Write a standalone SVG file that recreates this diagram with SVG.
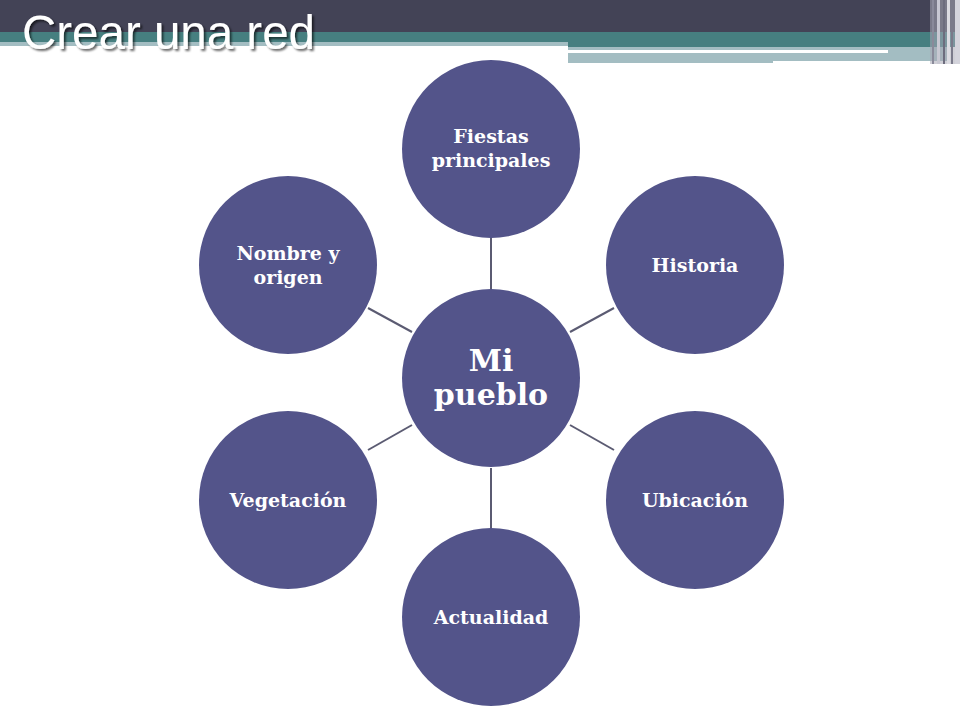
<svg xmlns="http://www.w3.org/2000/svg" width="960" height="720" viewBox="0 0 960 720">
<defs>
<style>
.node{fill:#53548a;}
.lbl{font-family:"DejaVu Serif","Liberation Serif",serif;font-weight:bold;font-size:19px;fill:#ffffff;text-anchor:middle;}
.big{font-size:30px;}
.conn{stroke:#5b5b72;stroke-width:2;fill:none;}
</style>
<filter id="sh" x="-10%" y="-10%" width="120%" height="130%">
<feDropShadow dx="2" dy="2" stdDeviation="1" flood-color="#000" flood-opacity="0.6"/>
</filter>
</defs>
<rect width="960" height="720" fill="#ffffff"/>
<g id="header">
<rect x="0" y="0" width="960" height="32" fill="#434356"/>
<rect x="0" y="32" width="960" height="10" fill="#467f80"/>
<rect x="568" y="42" width="392" height="5" fill="#467f80"/>
<rect x="0" y="42" width="568" height="4" fill="#a3bdc2"/>
<rect x="568" y="47" width="380" height="16" fill="#a3bdc2"/>
<rect x="773" y="61" width="175" height="3" fill="#ffffff"/>
<rect x="568" y="50" width="320" height="3" fill="#ffffff"/>
<rect x="930" y="0" width="30" height="64" fill="#a8a8b4" opacity="0.55"/>
<rect x="932" y="0" width="2" height="64" fill="#8a8a9a"/>
<rect x="937" y="0" width="3" height="64" fill="#c8c8d2"/>
<rect x="943" y="0" width="2" height="64" fill="#6d6d7e"/>
<rect x="947" y="0" width="3" height="64" fill="#dcdce2"/>
<rect x="951" y="0" width="2" height="64" fill="#7a7a8a"/>
<rect x="955" y="0" width="5" height="64" fill="#d4d4dc"/>
<text x="22" y="49" font-family="Liberation Sans, Arial, sans-serif" font-size="48" fill="#ffffff" textLength="293" lengthAdjust="spacingAndGlyphs" filter="url(#sh)">Crear una red</text>
</g>
<g id="connectors">
<line class="conn" x1="491" y1="238" x2="491" y2="289"/>
<line class="conn" x1="570" y1="332" x2="614" y2="308"/>
<line class="conn" x1="570" y1="425" x2="614" y2="450"/>
<line class="conn" x1="491" y1="468" x2="491" y2="528"/>
<line class="conn" x1="412" y1="425" x2="368" y2="450"/>
<line class="conn" x1="412" y1="332" x2="368" y2="308"/>
</g>
<g id="center">
<circle class="node" cx="491" cy="378" r="89"/>
<text class="lbl big" x="491" y="371">Mi</text>
<text class="lbl big" x="491" y="405">pueblo</text>
</g>
<g id="fiestas">
<circle class="node" cx="491" cy="149" r="89"/>
<text class="lbl" x="491" y="143">Fiestas</text>
<text class="lbl" x="491" y="167">principales</text>
</g>
<g id="historia">
<circle class="node" cx="695" cy="265" r="89"/>
<text class="lbl" x="695" y="272">Historia</text>
</g>
<g id="ubicacion">
<circle class="node" cx="695" cy="500" r="89"/>
<text class="lbl" x="695" y="507">Ubicación</text>
</g>
<g id="actualidad">
<circle class="node" cx="491" cy="617" r="89"/>
<text class="lbl" x="491" y="624">Actualidad</text>
</g>
<g id="vegetacion">
<circle class="node" cx="288" cy="500" r="89"/>
<text class="lbl" x="288" y="507">Vegetación</text>
</g>
<g id="nombre">
<circle class="node" cx="288" cy="265" r="89"/>
<text class="lbl" x="288" y="260">Nombre y</text>
<text class="lbl" x="288" y="284">origen</text>
</g>
</svg>
